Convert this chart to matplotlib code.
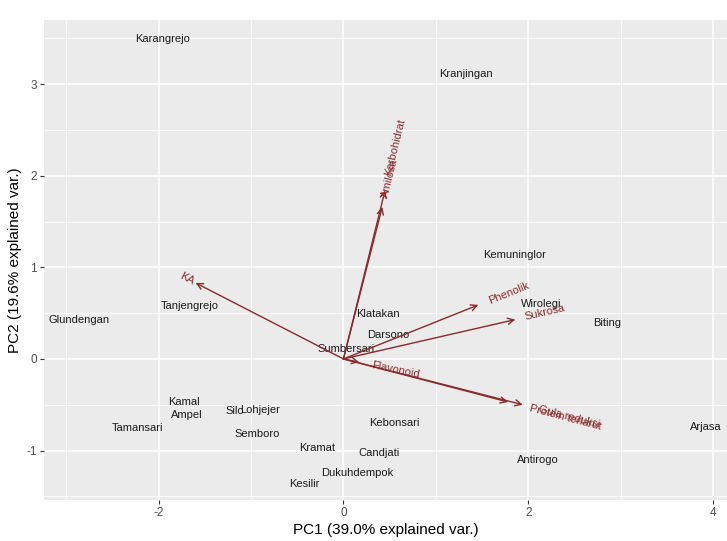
import numpy as np
import matplotlib
matplotlib.use("Agg")
import matplotlib.pyplot as plt

plt.rcParams['font.family'] = ['Liberation Sans', 'DejaVu Sans']
plt.rcParams['axes.unicode_minus'] = False

# Sample scores (PC1, PC2)
sites = ["Karangrejo", "Kranjingan", "Kemuninglor", "Wirolegi", "Biting", "Klatakan",
         "Darsono", "Sumbersari", "Tanjengrejo", "Glundengan", "Kamal", "Ampel", "Silo",
         "Lohjejer", "Tamansari", "Semboro", "Kebonsari", "Kramat", "Candjati",
         "Dukuhdempok", "Kesilir", "Antirogo", "Arjasa"]
pc1 = [-1.96, 1.33, 1.85, 2.14, 2.85, 0.37, 0.48, 0.03, -1.66, -2.86, -1.73, -1.69, -1.18,
       -0.90, -2.23, -0.93, 0.55, -0.29, 0.38, 0.15, -0.42, 2.10, 3.92]
pc2 = [3.49, 3.11, 1.14, 0.60, 0.39, 0.49, 0.26, 0.11, 0.58, 0.43, -0.47, -0.61, -0.57,
       -0.56, -0.75, -0.82, -0.70, -0.97, -1.03, -1.25, -1.36, -1.10, -0.74]

# Variable loadings (arrow tips)
variables = ["KA", "Karbohidrat", "Amilosa", "Phenolik", "Sukrosa", "Flavonoid",
             "Gula reduksi", "Protein terlarut"]
load1 = [-1.60, 0.45, 0.42, 1.46, 1.86, 0.17, 1.94, 1.78]
load2 = [0.83, 1.84, 1.66, 0.59, 0.43, -0.035, -0.50, -0.47]

xticks = [-2, 0, 2, 4]
yticks = [-1, 0, 1, 2, 3]
xlabel = "PC1 (39.0% explained var.)"
ylabel = "PC2 (19.6% explained var.)"

W, H = 727, 541
fig = plt.figure(figsize=(W / 100, H / 100), dpi=100)
fig.patch.set_facecolor('white')
ax = fig.add_axes([44 / W, 1 - 500 / H, (727 - 44) / W, (500 - 20) / H])
ax.set_facecolor('#EBEBEB')
ax.set_xlim(-3.24, 4.15)
ax.set_ylim(-1.54, 3.70)

ax.set_xticks(xticks)
ax.set_yticks(yticks)
ax.set_xticks([-3, -1, 1, 3], minor=True)
ax.set_yticks([-1.5, -0.5, 0.5, 1.5, 2.5, 3.5], minor=True)
ax.grid(True, which='major', color='white', linewidth=1.1)
ax.grid(True, which='minor', color='white', linewidth=0.55)
ax.set_axisbelow(True)
for s in ax.spines.values():
    s.set_visible(False)
ax.tick_params(which='major', length=3, color='#333333', labelsize=8.5, labelcolor='#4D4D4D', pad=2)
ax.tick_params(which='minor', length=0)
ax.set_xlabel(xlabel, fontsize=11, color='black', labelpad=3)
ax.set_ylabel(ylabel, fontsize=11, color='black', labelpad=3)

# Sample labels
for n, x, y in zip(sites, pc1, pc2):
    ax.text(x, y, n, ha='center', va='center', fontsize=8, color='#1a1a1a', zorder=3)

arrow_col = '#8B2A2A'
fig.canvas.draw()
for n, x, y in zip(variables, load1, load2):
    ax.annotate('', xy=(x, y), xytext=(0, 0),
                arrowprops=dict(arrowstyle='->', color=arrow_col, lw=1.0,
                                shrinkA=0, shrinkB=0, mutation_scale=11), zorder=4)
    ang = np.degrees(np.arctan(y / x))
    p0 = ax.transData.transform((0, 0))
    p1 = ax.transData.transform((x, y))
    d = (p1 - p0) / np.linalg.norm(p1 - p0)
    t = ax.text(x, y, n, fontsize=8, color=arrow_col, rotation=ang,
                rotation_mode='anchor', ha='left' if x > 0 else 'right', va='center', zorder=5)
    wpx = len(n) * 8 * 0.5 * 100 / 72
    off = 0.25 * wpx
    pos = p1 + d * off
    t.set_position(ax.transData.inverted().transform(pos))

fig.savefig('out.png', dpi=100)
